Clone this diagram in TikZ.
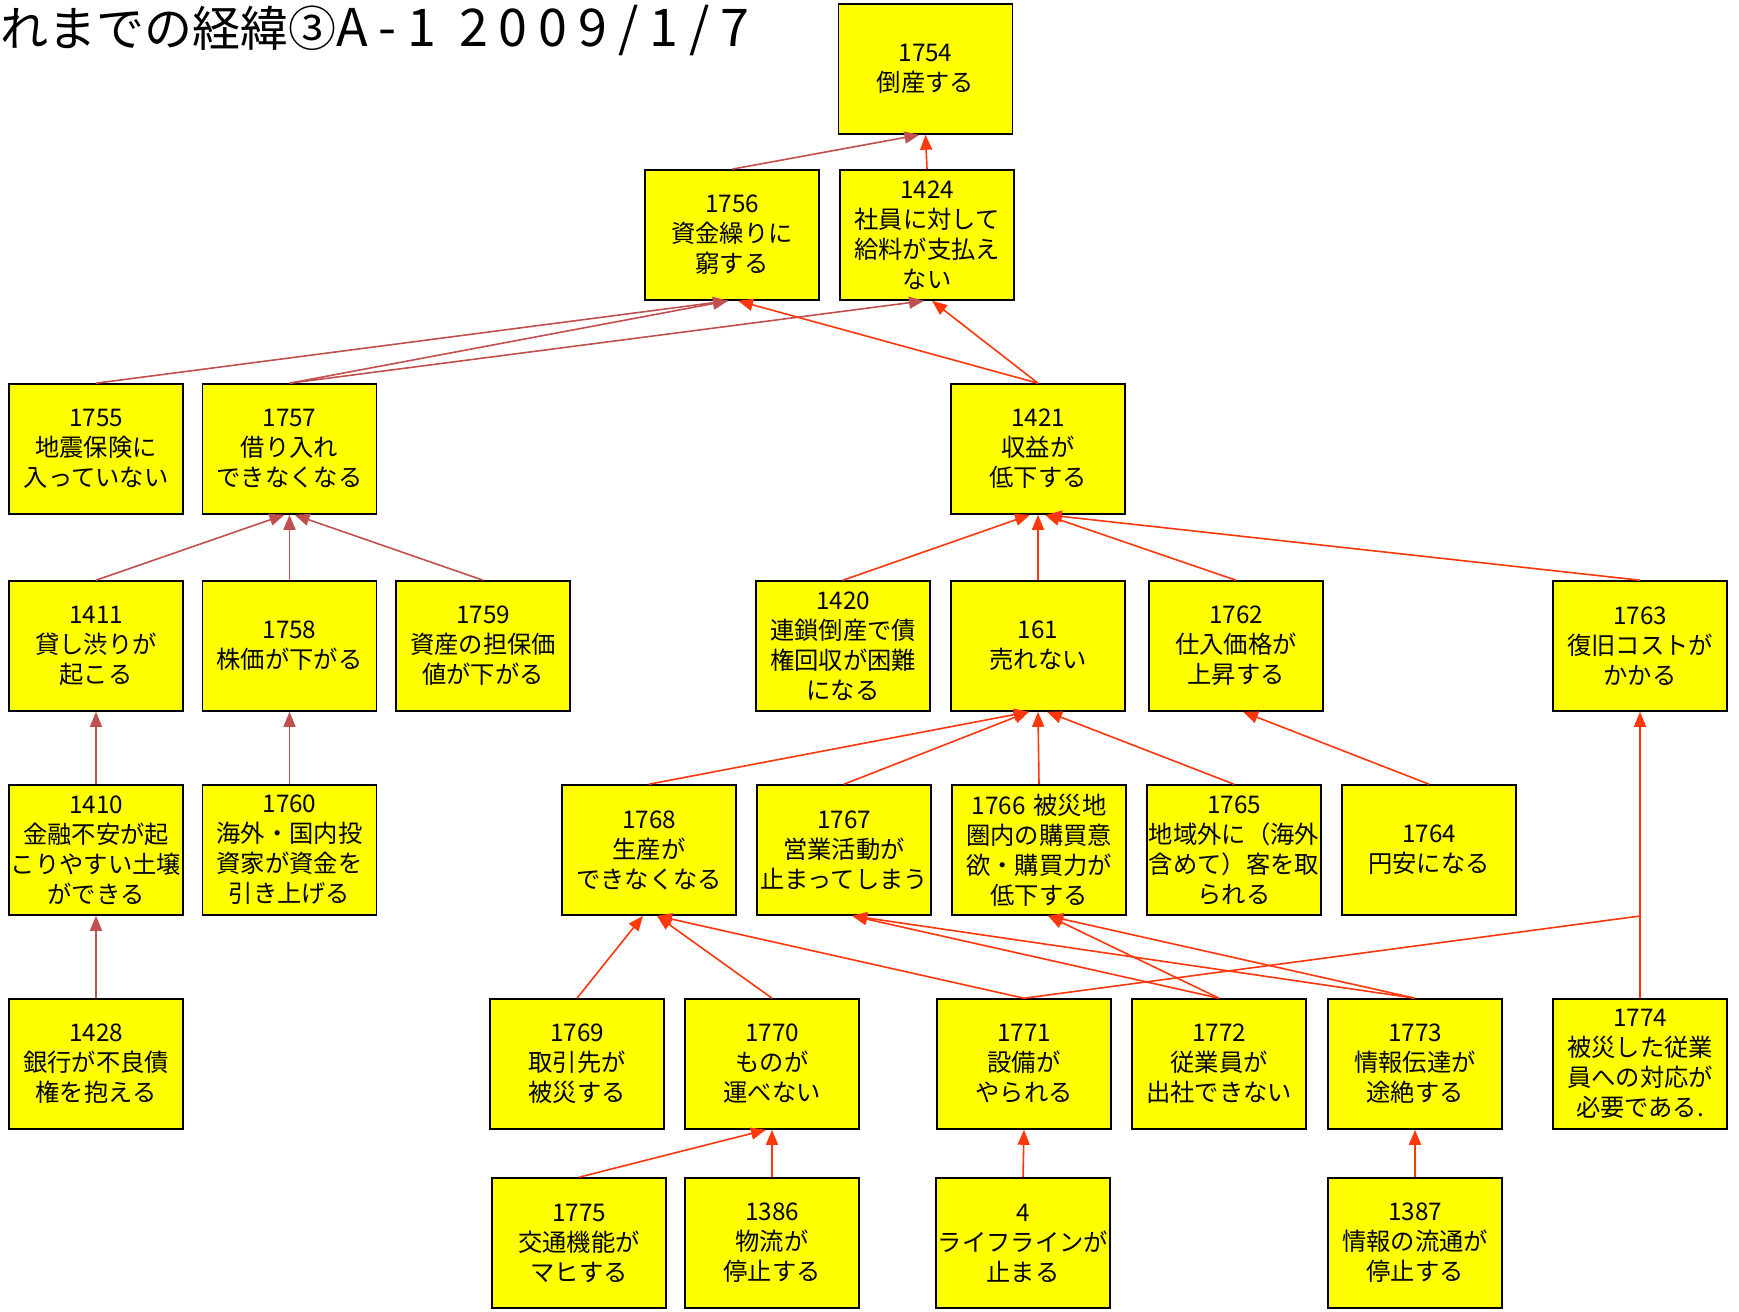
\documentclass[tikz,border=0pt]{standalone}
\usepackage{fontspec}
\newfontfamily\jp{Noto Sans CJK JP}
\usetikzlibrary{arrows.meta,calc}
\definecolor{boxyellow}{RGB}{255,255,0}
\definecolor{brownedge}{RGB}{192,80,77}
\definecolor{rededge}{RGB}{255,55,10}
\tikzset{
  box/.style={draw=black, line width=1.6pt, fill=boxyellow, minimum width=174pt, minimum height=130pt, inner sep=0pt, align=center, text width=173pt, font=\jp\fontsize{24.3}{30}\selectfont},
  bedge/.style={draw=brownedge, line width=1.6pt, -{Triangle[length=15pt,width=12pt]}},
  redge/.style={draw=rededge, line width=1.6pt, -{Triangle[length=15pt,width=12pt]}},
  rline/.style={draw=rededge, line width=1.6pt}
}
\begin{document}
\begin{tikzpicture}[x=1pt,y=-1pt]
\useasboundingbox (0,0) rectangle (1739,1311);
\node[anchor=base west, inner sep=0pt, font=\jp\fontsize{48}{50}\selectfont] (title) at (0,47) {れまでの経緯③{\fontsize{52}{54}\selectfont\addfontfeature{LetterSpace=21}A-1 2009/1/7}};
% row 0
\node[box] (n1754) at (925.5,69) {1754\\倒産する};
% row 1
\node[box] (n1756) at (732,235) {1756\\資金繰りに\\窮する};
\node[box] (n1424) at (927,235) {1424\\社員に対して\\給料が支払え\\ない};
% row 2
\node[box] (n1755) at (96,449) {1755\\地震保険に\\入っていない};
\node[box] (n1757) at (289.5,449) {1757\\借り入れ\\できなくなる};
\node[box] (n1421) at (1038,449) {1421\\収益が\\低下する};
% row 3
\node[box] (n1411) at (96,646) {1411\\貸し渋りが\\起こる};
\node[box] (n1758) at (289.5,646) {1758\\株価が下がる};
\node[box] (n1759) at (483,646) {1759\\資産の担保価\\値が下がる};
\node[box] (n1420) at (843,646) {1420\\連鎖倒産で債\\権回収が困難\\になる};
\node[box] (n161) at (1038,646) {161\\売れない};
\node[box] (n1762) at (1236,646) {1762\\仕入価格が\\上昇する};
\node[box] (n1763) at (1640,646) {1763\\復旧コストが\\かかる};
% row 4
\node[box] (n1410) at (96,850) {1410\\金融不安が起\\こりやすい土壌\\ができる};
\node[box] (n1760) at (289.5,850) {1760\\海外・国内投\\資家が資金を\\引き上げる};
\node[box] (n1768) at (649,850) {1768\\生産が\\できなくなる};
\node[box] (n1767) at (844,850) {1767\\営業活動が\\止まってしまう};
\node[box] (n1766) at (1039,850) {1766 被災地\\圏内の購買意\\欲・購買力が\\低下する};
\node[box] (n1765) at (1234,850) {1765\\地域外に（海外\\含めて）客を取\\られる};
\node[box] (n1764) at (1429,850) {1764\\円安になる};
% row 5
\node[box] (n1428) at (96,1064) {1428\\銀行が不良債\\権を抱える};
\node[box] (n1769) at (577,1064) {1769\\取引先が\\被災する};
\node[box] (n1770) at (772,1064) {1770\\ものが\\運べない};
\node[box] (n1771) at (1024,1064) {1771\\設備が\\やられる};
\node[box] (n1772) at (1219,1064) {1772\\従業員が\\出社できない};
\node[box] (n1773) at (1415,1064) {1773\\情報伝達が\\途絶する};
\node[box] (n1774) at (1640,1064) {1774\\被災した従業\\員への対応が\\必要である.};
% row 6
\node[box] (n1775) at (579,1243) {1775\\交通機能が\\マヒする};
\node[box] (n1386) at (772,1243) {1386\\物流が\\停止する};
\node[box] (n4) at (1023,1243) {4\\ライフラインが\\止まる};
\node[box] (n1387) at (1415,1243) {1387\\情報の流通が\\停止する};
\coordinate (bend) at (1640,916);
% brown edges
\draw[bedge] (n1756.north) -- ($(n1754.south)+(-6,0)$);
\draw[bedge] (n1755.north) -- ($(n1756.south)+(-4,0)$);
\draw[bedge] (n1757.north) -- ($(n1756.south)+(-4,0)$);
\draw[bedge] (n1757.north) -- ($(n1424.south)+(-3,0)$);
\draw[bedge] (n1411.north) -- ($(n1757.south)+(-5,0)$);
\draw[bedge] (n1758.north) -- (n1757.south);
\draw[bedge] (n1759.north) -- ($(n1757.south)+(5,0)$);
\draw[bedge] (n1410.north) -- (n1411.south);
\draw[bedge] (n1760.north) -- (n1758.south);
\draw[bedge] (n1428.north) -- (n1410.south);
% red edges
\draw[redge] (n1424.north) -- (n1754.south);
\draw[redge] (n1421.north) -- ($(n1756.south)+(6,0)$);
\draw[redge] (n1421.north) -- ($(n1424.south)+(5,0)$);
\draw[redge] (n1420.north) -- ($(n1421.south)+(-8,0)$);
\draw[redge] (n161.north) -- (n1421.south);
\draw[redge] (n1762.north) -- ($(n1421.south)+(7,0)$);
\draw[redge] (n1763.north) -- ($(n1421.south)+(9,0)$);
\draw[redge] (n1768.north) -- ($(n161.south)+(-9,0)$);
\draw[redge] (n1767.north) -- ($(n161.south)+(-9,0)$);
\draw[redge] (n1766.north) -- (n161.south);
\draw[redge] (n1765.north) -- ($(n161.south)+(9,0)$);
\draw[redge] (n1764.north) -- ($(n1762.south)+(7,0)$);
\draw[redge] (n1769.north) -- ($(n1768.south)+(-6,0)$);
\draw[redge] (n1770.north) -- ($(n1768.south)+(8,0)$);
\draw[redge] (n1771.north) -- ($(n1768.south)+(8,0)$);
\draw[redge] (n1772.north) -- ($(n1767.south)+(8,0)$);
\draw[redge] (n1773.north) -- ($(n1767.south)+(8,0)$);
\draw[redge] (n1772.north) -- ($(n1766.south)+(9,0)$);
\draw[redge] (n1773.north) -- ($(n1766.south)+(9,0)$);
\draw[rline] (n1771.north) -- (bend);
\draw[redge] (n1774.north) -- (n1763.south);
\draw[redge] (n1775.north) -- ($(n1770.south)+(-6,0)$);
\draw[redge] (n1386.north) -- (n1770.south);
\draw[redge] (n4.north) -- (n1771.south);
\draw[redge] (n1387.north) -- (n1773.south);
\end{tikzpicture}
\end{document}
